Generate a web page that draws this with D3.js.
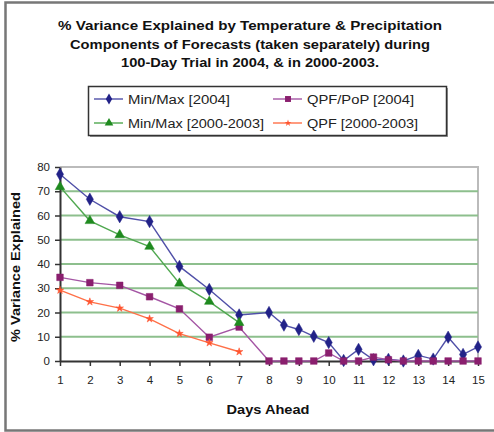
<!DOCTYPE html>
<html>
<head>
<meta charset="utf-8">
<script src="https://cdn.jsdelivr.net/npm/d3@7"></script>
<style>
  html, body { margin: 0; padding: 0; background: #fff; }
  svg { display: block; font-family: "Liberation Sans", Arial, sans-serif; }
</style>
</head>
<body>
<svg id="chart" width="494" height="432"></svg>
<script>
// Forecast days: the 2004 trial runs to day 15 in half-day steps after day 8
const days2004 = [1, 2, 3, 4, 5, 6, 7, 8, 8.5, 9, 9.5, 10, 10.5, 11, 11.5, 12, 12.5, 13, 13.5, 14, 14.5, 15];
const daysPast = [1, 2, 3, 4, 5, 6, 7];

// % variance explained
const minMax2004 = [77, 66.7, 59.5, 57.5, 39, 29.5, 19, 20, 14.8, 13, 10.2, 7.6, 0.2, 4.8, 0.5, 0.7, 0, 2.3, 0.8, 9.8, 2.7, 5.8];
const qpfPop2004 = [34.5, 32.3, 31.2, 26.5, 21.5, 9.8, 14, 0, 0, 0, 0, 3.3, 0, 0, 1.6, 0.5, 0, 0, 0, 0, 0, 0];
const minMaxPast = [71.8, 57.8, 52, 47.2, 32, 24.5, 15.8];
const qpfPast = [29.2, 24.4, 21.8, 17.4, 11.3, 7.5, 3.8];

const xTicks = d3.range(1, 16);
const yTicks = [0, 10, 20, 30, 40, 50, 60, 70, 80];

const titleLines = [
  "% Variance Explained by Temperature & Precipitation",
  "Components of Forecasts (taken separately) during",
  "100-Day Trial in 2004, & in 2000-2003."
];
const titleWidths = [384, 360, 258];

const series = [
  { name: "Min/Max [2004]", days: days2004, values: minMax2004, line: "#5050a8", fill: "#222288", shape: d3.symbolDiamond, size: 44, labelW: 102 },
  { name: "QPF/PoP [2004]", days: days2004, values: qpfPop2004, line: "#a455a4", fill: "#8a1f6e", shape: d3.symbolSquare, size: 44, labelW: 107 },
  { name: "Min/Max [2000-2003]", days: daysPast, values: minMaxPast, line: "#50a850", fill: "#1f8a1f", shape: d3.symbolTriangle, size: 40, labelW: 136 },
  { name: "QPF [2000-2003]", days: daysPast, values: qpfPast, line: "#ff7048", fill: "#ff5530", shape: d3.symbolStar, size: 18, labelW: 111 }
];

const svg = d3.select("#chart");

// outer frame
svg.append("rect").attr("x", 5.5).attr("y", 2.5).attr("width", 520).attr("height", 428)
  .attr("fill", "none").attr("stroke", "#777").attr("stroke-width", 2.5);

// title
svg.append("g").selectAll("text").data(titleLines).join("text")
  .attr("x", 250).attr("y", (d, i) => 30 + i * 18.5)
  .attr("text-anchor", "middle")
  .attr("font-size", 13).attr("font-weight", "bold").attr("fill", "#111")
  .attr("textLength", (d, i) => titleWidths[i]).attr("lengthAdjust", "spacingAndGlyphs")
  .text(d => d);

const plot = { left: 60, right: 478, top: 167, bottom: 361 };
const x = d3.scaleLinear().domain([1, 15]).range([plot.left, plot.right]);
const y = d3.scaleLinear().domain([0, 80]).range([plot.bottom, plot.top]);

// plot frame (top and right)
svg.append("path")
  .attr("d", `M${plot.left},${plot.top}H${plot.right}V${plot.bottom}`)
  .attr("fill", "none").attr("stroke", "#bbb").attr("stroke-width", 2);

// horizontal gridlines
svg.append("g").selectAll("line").data(yTicks.filter(v => v > 0 && v < 80)).join("line")
  .attr("x1", plot.left).attr("x2", plot.right)
  .attr("y1", d => y(d)).attr("y2", d => y(d))
  .attr("stroke", "#8dbf8d").attr("stroke-width", 2);

// y axis
const yAxis = svg.append("g").attr("transform", `translate(${plot.left},0)`)
  .call(d3.axisLeft(y).tickValues(yTicks).tickSize(5).tickPadding(5).tickSizeOuter(0));
yAxis.select(".domain").attr("stroke", "#333").attr("stroke-width", 2);
yAxis.selectAll(".tick line").attr("stroke", "#333").attr("stroke-width", 1.5);
yAxis.selectAll(".tick text").attr("font-size", 11.5).attr("fill", "#222").attr("font-family", "Liberation Sans, Arial, sans-serif");

// x axis
const xAxis = svg.append("g").attr("transform", `translate(0,${plot.bottom})`)
  .call(d3.axisBottom(x).tickValues(xTicks).tickFormat(d3.format("d")).tickSize(5).tickPadding(10).tickSizeOuter(0));
xAxis.select(".domain").attr("stroke", "#333").attr("stroke-width", 2);
xAxis.selectAll(".tick line").attr("stroke", "#333").attr("stroke-width", 1.5);
xAxis.selectAll(".tick text").attr("font-size", 11.5).attr("fill", "#222").attr("font-family", "Liberation Sans, Arial, sans-serif");

// axis titles
svg.append("text").attr("x", 268).attr("y", 414).attr("text-anchor", "middle")
  .attr("font-size", 13).attr("font-weight", "bold").attr("fill", "#111")
  .attr("textLength", 83).attr("lengthAdjust", "spacingAndGlyphs").text("Days Ahead");
svg.append("text").attr("transform", "translate(20,267) rotate(-90)").attr("text-anchor", "middle")
  .attr("font-size", 13).attr("font-weight", "bold").attr("fill", "#111")
  .attr("textLength", 150).attr("lengthAdjust", "spacingAndGlyphs").text("% Variance Explained");

// series lines and markers
const lineGen = d3.line().x(d => x(d[0])).y(d => y(d[1]));
series.forEach(s => {
  const pts = s.days.map((d, i) => [d, s.values[i]]);
  const g = svg.append("g");
  g.append("path").attr("d", lineGen(pts)).attr("fill", "none")
    .attr("stroke", s.line).attr("stroke-width", 1.4);
  g.selectAll("path.m").data(pts).join("path").attr("class", "m")
    .attr("transform", d => `translate(${x(d[0])},${y(d[1])})`)
    .attr("d", d3.symbol().type(s.shape).size(s.size))
    .attr("fill", s.fill).attr("stroke", s.fill).attr("stroke-width", 0.5);
});

// legend
const legend = svg.append("g");
legend.append("rect").attr("x", 90).attr("y", 88).attr("width", 358).attr("height", 49).attr("fill", "#999");
legend.append("rect").attr("x", 88.5).attr("y", 86.5).attr("width", 358).attr("height", 49)
  .attr("fill", "#fff").attr("stroke", "#333").attr("stroke-width", 1.5);
const legendPos = [[94, 99], [273, 99], [94, 123], [273, 123]];
series.forEach((s, i) => {
  const [lx, ly] = legendPos[i];
  legend.append("line").attr("x1", lx).attr("x2", lx + 29).attr("y1", ly).attr("y2", ly)
    .attr("stroke", s.line).attr("stroke-width", 1.4);
  legend.append("path").attr("transform", `translate(${lx + 15},${ly})`)
    .attr("d", d3.symbol().type(s.shape).size(s.size * 0.8)).attr("fill", s.fill);
  legend.append("text").attr("x", lx + 34).attr("y", ly + 4.5)
    .attr("font-size", 12).attr("fill", "#222")
    .attr("textLength", s.labelW).attr("lengthAdjust", "spacingAndGlyphs").text(s.name);
});
</script>
</body>
</html>
